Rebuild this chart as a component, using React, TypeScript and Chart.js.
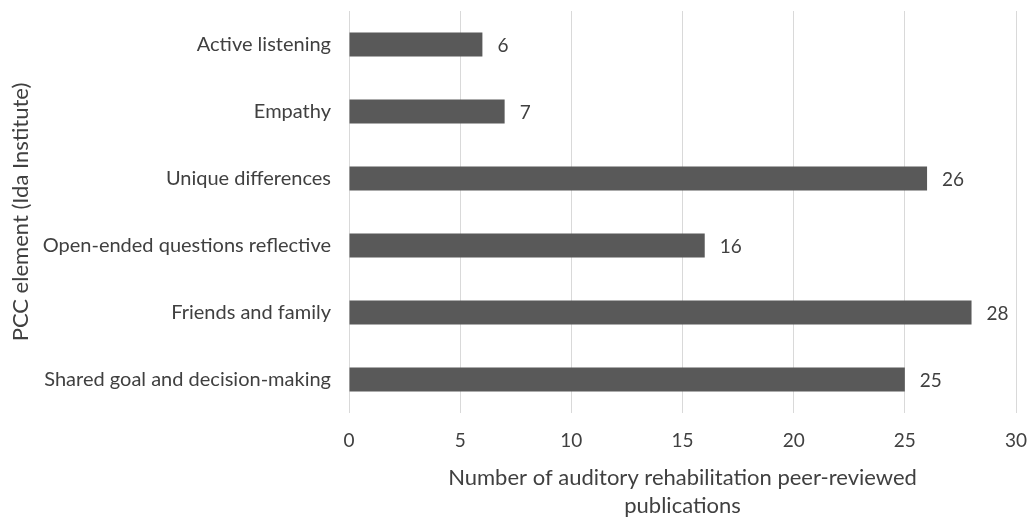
import React, { useEffect, useRef } from "react";
import { Chart, registerables } from "chart.js";

Chart.register(...registerables);

const categories = [
  "Active listening",
  "Empathy",
  "Unique differences",
  "Open-ended questions reflective",
  "Friends and family",
  "Shared goal and decision-making",
];
const publications = [6, 7, 26, 16, 28, 25];
const xTicks = [0, 5, 10, 15, 20, 25, 30];
const xTitle = ["Number of auditory rehabilitation peer-reviewed", "publications"];
const yTitle = "PCC element (Ida Institute)";

const FONT = "Lato, 'Open Sans', sans-serif";
const TEXT = "#404040";

// Writes each bar's value just past its end
const valueLabels = {
  id: "valueLabels",
  afterDatasetsDraw(chart: any) {
    const { ctx } = chart;
    const meta = chart.getDatasetMeta(0);
    ctx.save();
    ctx.font = `19px ${FONT}`;
    ctx.fillStyle = TEXT;
    ctx.textAlign = "left";
    ctx.textBaseline = "middle";
    meta.data.forEach((bar: any, i: number) => {
      ctx.fillText(String(publications[i]), bar.x + 15, bar.y + 1);
    });
    ctx.restore();
  },
};

export default function App() {
  const ref = useRef<HTMLCanvasElement>(null);

  useEffect(() => {
    if (!ref.current) return;
    const chart = new Chart(ref.current, {
      type: "bar",
      data: {
        labels: categories,
        datasets: [
          {
            data: publications,
            backgroundColor: "#595959",
            borderWidth: 0,
            categoryPercentage: 1,
            barPercentage: 0.36,
          },
        ],
      },
      options: {
        indexAxis: "y",
        animation: false,
        responsive: false,
        maintainAspectRatio: false,
        layout: { padding: { top: 11, right: 14, bottom: 0, left: 0 } },
        plugins: {
          legend: { display: false },
          tooltip: { enabled: false },
        },
        scales: {
          x: {
            min: 0,
            max: 30,
            afterBuildTicks(scale: any) {
              scale.ticks = xTicks.map((v) => ({ value: v }));
            },
            afterFit(scale: any) {
              scale.height = 517 - 413;
              scale.paddingLeft = 0;
              scale.paddingRight = 0;
            },
            border: { display: false },
            grid: { color: "#d9d9d9", lineWidth: 1, drawTicks: false },
            ticks: {
              padding: 16,
              color: TEXT,
              font: { family: FONT, size: 19 },
              maxRotation: 0,
            },
            title: {
              display: true,
              text: xTitle,
              color: TEXT,
              font: { family: FONT, size: 22, lineHeight: "28px" },
              padding: { top: 0, bottom: -3 },
            },
          },
          y: {
            afterFit(scale: any) {
              scale.width = 349;
              scale.paddingTop = 0;
              scale.paddingBottom = 0;
            },
            border: { display: false },
            grid: { display: false, drawTicks: false },
            ticks: {
              padding: 18,
              color: TEXT,
              font: { family: FONT, size: 20 },
            },
            title: {
              display: true,
              text: yTitle,
              color: TEXT,
              font: { family: FONT, size: 22, lineHeight: 1.2 },
              padding: { top: 8, bottom: 0 },
            },
          },
        },
      },
      plugins: [valueLabels],
    });
    return () => chart.destroy();
  }, []);

  return (
    <div style={{ position: "fixed", left: 0, top: 0, width: 1030, height: 517, background: "#fff" }}>
      <canvas ref={ref} width={1030} height={517} style={{ display: "block" }} />
    </div>
  );
}
